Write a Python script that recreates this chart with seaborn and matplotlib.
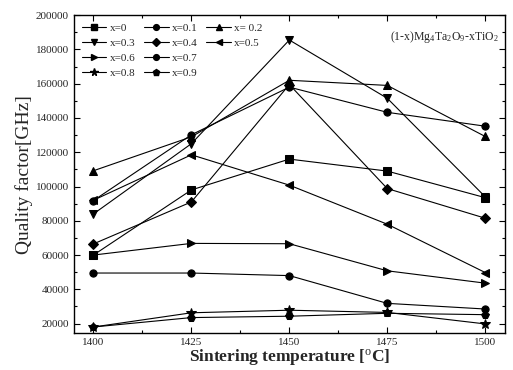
import matplotlib
matplotlib.use("Agg")
import matplotlib.pyplot as plt
from matplotlib.lines import Line2D
import seaborn as sns
import pandas as pd

temps = [1400, 1425, 1450, 1475, 1500]
labels = ["x=0", "x=0.1", "x= 0.2", "x=0.3", "x=0.4", "x=0.5",
          "x=0.6", "x=0.7", "x=0.8", "x=0.9"]
q_x00 = [60000, 98000, 116000, 109000, 93500]
q_x01 = [91800, 130200, 158000, 143300, 135200]
q_x02 = [109200, 129000, 162000, 159000, 129200]
q_x03 = [84000, 125000, 185500, 151500, 94000]
q_x04 = [66500, 91000, 159500, 98800, 81500]
q_x05 = [92000, 118500, 100800, 78000, 49800]
q_x06 = [60000, 66800, 66600, 50800, 43600]
q_x07 = [49500, 49500, 48000, 31800, 28500]
q_x08 = [18000, 26300, 27800, 26500, 19800]
q_x09 = [18000, 23500, 24300, 26000, 25200]
series = [q_x00, q_x01, q_x02, q_x03, q_x04, q_x05, q_x06, q_x07, q_x08, q_x09]
marker_list = ["s", "o", "^", "v", "D", "<", ">", "o", "*", "p"]

rows = []
for lab, vals in zip(labels, series):
    for t, v in zip(temps, vals):
        rows.append({"T": t, "Q": v, "series": lab})
df = pd.DataFrame(rows)

sns.set_style("ticks")
plt.rcParams["font.family"] = ["Liberation Serif", "DejaVu Serif"]
plt.rcParams["mathtext.fontset"] = "custom"
plt.rcParams["mathtext.rm"] = "Liberation Serif"
plt.rcParams["mathtext.it"] = "Liberation Serif:italic"

fig = plt.figure(figsize=(5.13, 3.70), dpi=100)
ax = fig.add_axes([0.144, 0.100, 0.840, 0.859])

msizes = {"D": 5.0, "*": 7.0, "p": 6.0}
for lab, vals, mk in zip(labels, series, marker_list):
    sub = df[df["series"] == lab]
    sns.lineplot(data=sub, x="T", y="Q", ax=ax, color="black", lw=0.8,
                 marker=mk, markersize=msizes.get(mk, 5.2),
                 markeredgecolor="black", markerfacecolor="black",
                 label=lab, legend=False)

ax.set_xlim(1395, 1505)
ax.set_ylim(14500, 200000)
ax.set_xticks(temps)
ax.set_yticks(range(20000, 200001, 20000))
ax.set_xticks([1400 + 12.5 * i for i in range(9)], minor=True)
ax.set_yticks(range(20000, 200001, 10000), minor=True)
ax.tick_params(which="both", direction="in", top=True, right=True,
               labelsize=8, width=0.8, color="black")
ax.tick_params(which="major", length=4)
ax.tick_params(which="minor", length=2)
for s in ax.spines.values():
    s.set_linewidth(1.0)
    s.set_color("black")

ax.set_xlabel(r"Sintering temperature [$^{\rm o}$C]", fontsize=12.5,
              fontweight="bold", labelpad=0)
ax.set_ylabel("Quality factor[GHz]", fontsize=14, labelpad=2)

ax.text(0.985, 0.955, r"(1-x)Mg$_4$Ta$_2$O$_9$-xTiO$_2$", transform=ax.transAxes,
        ha="right", va="top", fontsize=8.5)

handles = [Line2D([], [], color="black", lw=0.8, marker=mk,
                  markersize=msizes.get(mk, 5.2) * 0.8)
           for mk in marker_list]
blank = Line2D([], [], color="none", lw=0)
order_cols = [[0, 3, 6, 8], [1, 4, 7, 9], [2, 5, None, None]]
hs, ls = [], []
for col in order_cols:
    for i in col:
        if i is None:
            hs.append(blank); ls.append("")
        else:
            hs.append(handles[i]); ls.append(labels[i])
ax.legend(hs, ls, ncol=3, loc="upper left", frameon=False, fontsize=8,
          handlelength=2.2, handletextpad=0.3, columnspacing=0.8,
          labelspacing=0.48, borderaxespad=0.3, bbox_to_anchor=(0.0, 1.0))

fig.savefig("out.png", dpi=100)
